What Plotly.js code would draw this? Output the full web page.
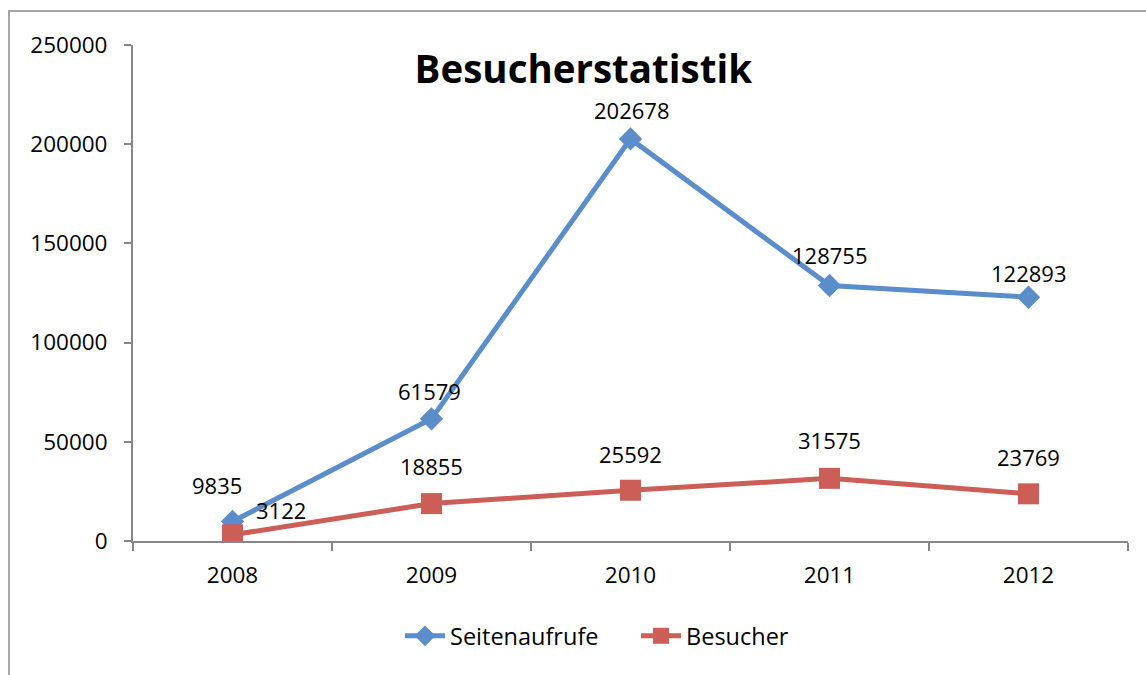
<!DOCTYPE html>
<html>
<head>
<meta charset="utf-8">
<script src="https://cdn.plot.ly/plotly-3.0.1.min.js"></script>
<style>
html,body{margin:0;padding:0;background:#fff;}
#frame{position:absolute;left:8px;top:10px;width:1200px;height:700px;border-left:2px solid #a6a6a6;border-top:2px solid #a6a6a6;}
#chart{position:absolute;left:0;top:0;width:1146px;height:675px;}
</style>
</head>
<body>
<div id="frame"></div>
<div id="chart"></div>
<script>
const years = ['2008', '2009', '2010', '2011', '2012'];
const seitenaufrufe = [9835, 61579, 202678, 128755, 122893];
const besucher = [3122, 18855, 25592, 31575, 23769];
const seriesNames = ['Seitenaufrufe', 'Besucher'];
const chartTitle = 'Besucherstatistik';

const blue = '#5A8DCA';
const red = '#CC5D57';
const font = 'Open Sans, sans-serif';

// label offsets (px) per point
const blueShift = [[-16, 36], [-2, 28], [1, 29], [0, 31], [0, 24]];
const redShift = [[48, 25], [0, 38], [0, 36], [0, 38], [0, 37]];

const annotations = [];
years.forEach((y, i) => {
  annotations.push({xref: 'x', yref: 'y', x: i, y: seitenaufrufe[i], text: String(seitenaufrufe[i]), showarrow: false,
    xshift: blueShift[i][0], yshift: blueShift[i][1], font: {family: font, size: 22, color: '#000'}});
  annotations.push({xref: 'x', yref: 'y', x: i, y: besucher[i], text: String(besucher[i]), showarrow: false,
    xshift: redShift[i][0], yshift: redShift[i][1], font: {family: font, size: 22, color: '#000'}});
});

const data = [
  {x: years, y: seitenaufrufe, name: seriesNames[0], type: 'scatter', mode: 'lines+markers',
   line: {color: blue, width: 5}, marker: {symbol: 'diamond', size: 18, color: blue}},
  {x: years, y: besucher, name: seriesNames[1], type: 'scatter', mode: 'lines+markers',
   line: {color: red, width: 5}, marker: {symbol: 'square', size: 21, color: red}}
];

const layout = {
  width: 1146, height: 675,
  margin: {l: 133, r: 18, t: 45, b: 134},
  paper_bgcolor: 'rgba(0,0,0,0)', plot_bgcolor: 'rgba(0,0,0,0)',
  font: {family: font, size: 22, color: '#000'},
  title: {text: '<b>' + chartTitle + '</b>', font: {family: font, size: 38.5, color: '#000'},
    xref: 'container', yref: 'container', x: 0.509, y: 1 - 70/675, xanchor: 'center', yanchor: 'middle'},
  xaxis: {type: 'category', tickson: 'boundaries', ticks: 'outside', ticklen: 8, tickwidth: 2,
    tickcolor: '#878787', showline: true, linecolor: '#878787', linewidth: 2, showgrid: false,
    zeroline: false, ticklabelstandoff: 13, tickfont: {family: font, size: 22.5, color: '#000'},
    range: [-0.5, 4.5], fixedrange: true},
  yaxis: {range: [0, 250000], dtick: 50000, tick0: 0, ticks: 'outside', ticklen: 7, tickwidth: 2,
    tickcolor: '#878787', showline: true, linecolor: '#878787', linewidth: 2, showgrid: false,
    zeroline: false, ticklabelstandoff: 12, tickfont: {family: font, size: 22.5, color: '#000'},
    tickformat: 'd', separatethousands: false, fixedrange: true},
  showlegend: true,
  legend: {orientation: 'h', xref: 'container', yref: 'container', x: 400/1146, y: 1 - 636/675,
    xanchor: 'left', yanchor: 'middle', font: {family: font, size: 23.5, color: '#000'},
    itemwidth: 40, entrywidth: 181, bgcolor: 'rgba(0,0,0,0)'},
  annotations: annotations
};

Plotly.newPlot('chart', data, layout, {displayModeBar: false, staticPlot: true});
</script>
</body>
</html>
